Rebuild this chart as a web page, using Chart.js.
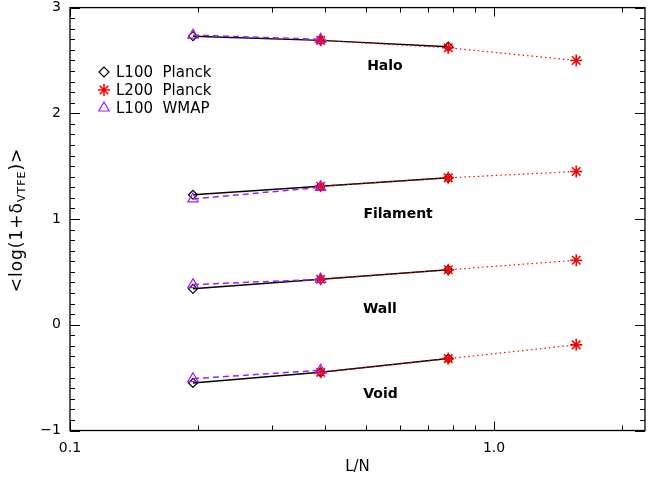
<!DOCTYPE html>
<html><head><meta charset="utf-8">
<script src="https://cdn.jsdelivr.net/npm/chart.js@4/dist/chart.umd.min.js"></script>
<style>html,body{margin:0;padding:0;background:#fff}</style>
</head><body>
<canvas id="c" width="654" height="481"></canvas>
<script>
// ---- data ----
const xL100 = [0.195, 0.39, 0.78];
const xL200 = [0.39, 0.78, 1.5625];
const xWMAP = [0.195, 0.39];

const haloL100 = [2.73, 2.69, 2.63];
const haloL200 = [2.69, 2.62, 2.50];
const haloWMAP = [2.74, 2.70];
const filL100  = [1.23, 1.31, 1.39];
const filL200  = [1.31, 1.39, 1.45];
const filWMAP  = [1.19, 1.30];
const wallL100 = [0.34, 0.43, 0.52];
const wallL200 = [0.43, 0.52, 0.61];
const wallWMAP = [0.38, 0.43];
const voidL100 = [-0.55, -0.45, -0.32];
const voidL200 = [-0.45, -0.32, -0.19];
const voidWMAP = [-0.51, -0.43];

const structureNames = ["Halo", "Filament", "Wall", "Void"];
const seriesNames = ["L100  Planck", "L200  Planck", "L100  WMAP"];
const xTickValues = [0.1, 1.0];
const xTickLabels = ["0.1", "1.0"];
const xMinorTicks = [0.2,0.3,0.4,0.5,0.6,0.7,0.8,0.9,2.0];
const yTickValues = [-1, 0, 1, 2, 3];
const yTickLabels = ["\u22121", "0", "1", "2", "3"];
const yMinorStep = 0.1;

// ---- styles ----
const styles = [
  {color:'#000000', point:'rectRot', radius:4.5, dash:[], lw:1.5, order:2, pbw:1.2},
  {color:'#ff0000', point:'star', radius:6, dash:[1.5,3], lw:1.2, order:1, pbw:1.6},
  {color:'#a020f0', point:'triangle', radius:6, dash:[6,4], lw:1.5, order:0, pbw:1.2}
];
const structureLabelPos = [[0.553, 2.44], [0.594, 1.04], [0.538, 0.15], [0.54, -0.66]];

const toPts = (xs, ys) => xs.map((x, i) => ({x: x, y: ys[i]}));
const groups = [
  [haloL100, haloL200, haloWMAP],
  [filL100, filL200, filWMAP],
  [wallL100, wallL200, wallWMAP],
  [voidL100, voidL200, voidWMAP]
];
const xs = [xL100, xL200, xWMAP];
const datasets = [];
groups.forEach((g, gi) => {
  g.forEach((ys, si) => {
    const s = styles[si];
    datasets.push({
      label: seriesNames[si] + ' ' + structureNames[gi],
      data: toPts(xs[si], ys),
      showLine: true,
      borderColor: s.color,
      backgroundColor: 'rgba(0,0,0,0)',
      borderWidth: s.lw,
      borderDash: s.dash,
      pointStyle: s.point,
      pointRadius: s.radius,
      pointBorderColor: s.color,
      pointBackgroundColor: 'rgba(0,0,0,0)',
      pointBorderWidth: s.pbw,
      order: s.order
    });
  });
});

function symbol(ctx, s, x, y) {
  ctx.save();
  ctx.strokeStyle = s.color; ctx.fillStyle = 'rgba(0,0,0,0)'; ctx.lineWidth = s.pbw;
  Chart.helpers.drawPoint(ctx, {pointStyle: s.point, radius: s.radius, rotation: 0, borderWidth: s.pbw}, x, y);
  ctx.restore();
}

const idlFrame = {
  id: 'idlFrame',
  afterDraw(chart) {
    const {ctx, chartArea: a, scales: {x, y}} = chart;
    ctx.save();
    ctx.strokeStyle = '#000';
    ctx.lineWidth = 1.3;
    ctx.strokeRect(a.left, a.top, a.right - a.left, a.bottom - a.top);
    ctx.lineWidth = 1;
    const line = (x1, y1, x2, y2) => { ctx.beginPath(); ctx.moveTo(x1, y1); ctx.lineTo(x2, y2); ctx.stroke(); };
    xTickValues.concat(xMinorTicks).forEach(v => {
      const px = Math.round(x.getPixelForValue(v)) + 0.5;
      const L = xTickValues.includes(v) ? 9 : 5;
      line(px, a.bottom, px, a.bottom - L);
      line(px, a.top, px, a.top + L);
    });
    const n = Math.round((y.max - y.min) / yMinorStep);
    for (let k = 0; k <= n; k++) {
      const v = y.min + k * yMinorStep;
      const py = Math.round(y.getPixelForValue(v)) + 0.5;
      const major = yTickValues.some(t => Math.abs(t - v) < 1e-6);
      const L = major ? 10 : 5;
      line(a.left, py, a.left + L, py);
      line(a.right, py, a.right - L, py);
    }
    // structure labels
    ctx.fillStyle = '#000';
    ctx.font = 'bold 14px "DejaVu Sans"';
    ctx.textAlign = 'center'; ctx.textBaseline = 'middle';
    structureNames.forEach((nm, i) => {
      ctx.fillText(nm, x.getPixelForValue(structureLabelPos[i][0]), y.getPixelForValue(structureLabelPos[i][1]));
    });
    // legend
    ctx.font = '15px "DejaVu Sans"';
    ctx.textAlign = 'left';
    const lx = 104, ly = 72, dy = 18;
    seriesNames.forEach((nm, i) => {
      const s = styles[i];
      symbol(ctx, Object.assign({}, s, {radius: i === 0 ? 5 : s.radius}), lx, ly + i * dy);
      ctx.fillStyle = '#000';
      ctx.fillText(nm, lx + 12, ly + i * dy + 1);
    });
    // y title with subscript
    ctx.save();
    ctx.translate(18, 220);
    ctx.rotate(-Math.PI / 2);
    ctx.textBaseline = 'middle';
    try { ctx.letterSpacing = '1px'; } catch (e) {}
    const p1 = '<log(1+\u03b4', sub = 'VTFE', p2 = ')>';
    const f1 = '17px "DejaVu Sans"', f2 = '11px "DejaVu Sans"';
    ctx.font = f1; const w1 = ctx.measureText(p1).width, w3 = ctx.measureText(p2).width;
    ctx.font = f2; const w2 = ctx.measureText(sub).width;
    let cx = -(w1 + w2 + w3) / 2;
    ctx.textAlign = 'left';
    ctx.font = f1; ctx.fillText(p1, cx, 0); cx += w1;
    ctx.font = f2; ctx.fillText(sub, cx, 4); cx += w2;
    ctx.font = f1; ctx.fillText(p2, cx, 0);
    ctx.restore();
    ctx.restore();
  }
};

new Chart(document.getElementById('c'), {
  type: 'scatter',
  data: {datasets},
  options: {
    responsive: false,
    animation: false,
    devicePixelRatio: 1,
    layout: {padding: {top: 4.5, right: 9, left: 0, bottom: 0}},
    plugins: {legend: {display: false}, tooltip: {enabled: false}},
    scales: {
      x: {
        type: 'logarithmic', min: 0.1, max: 2.27,
        grid: {display: false, drawTicks: false},
        border: {display: false},
        afterBuildTicks: s => { s.ticks = xTickValues.map(v => ({value: v})); },
        afterFit: s => { s.height = 50.5; s.paddingLeft = 0; s.paddingRight = 0; },
        ticks: {
          autoSkip: false, maxRotation: 0, padding: 9, color: '#000',
          font: {family: 'DejaVu Sans', size: 14},
          callback: (v) => { const i = xTickValues.findIndex(t => Math.abs(t - v) < 1e-9); return i >= 0 ? xTickLabels[i] : ''; }
        },
        title: {display: true, text: 'L/N', color: '#000', font: {family: 'DejaVu Sans', size: 15}, padding: {top: 0, bottom: 5}}
      },
      y: {
        type: 'linear', min: -1, max: 3,
        grid: {display: false, drawTicks: false},
        border: {display: false},
        afterBuildTicks: s => { s.ticks = yTickValues.map(v => ({value: v})); },
        afterFit: s => { s.width = 70; s.paddingTop = 0; s.paddingBottom = 0; },
        ticks: {
          autoSkip: false, padding: 9, color: '#000',
          font: {family: 'DejaVu Sans', size: 14},
          callback: (v) => { const i = yTickValues.findIndex(t => Math.abs(t - v) < 1e-9); return i >= 0 ? yTickLabels[i] : ''; }
        }
      }
    }
  },
  plugins: [idlFrame]
});
</script>
</body></html>
